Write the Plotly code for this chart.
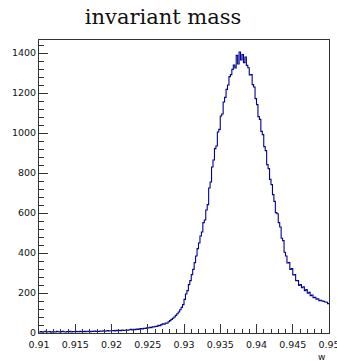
import numpy as np
import plotly.graph_objects as go

# ---------------- data ----------------
title_text = "invariant mass"
x_title = "w"
x_min = 0.91
x_max = 0.95
n_bins = 200

counts = [
    5, 7, 4, 6, 8, 5, 6, 7, 4, 6,
    6, 5, 8, 6, 5, 7, 8, 6, 5, 7,
    6, 8, 5, 7, 6, 8, 7, 6, 8, 7,
    7, 8, 6, 9, 8, 7, 9, 8, 10, 8,
    9, 8, 10, 9, 11, 9, 10, 12, 10, 11,
    11, 12, 10, 13, 12, 14, 12, 15, 13, 14,
    15, 14, 16, 18, 15, 19, 17, 20, 18, 21,
    22, 20, 24, 23, 26, 25, 29, 27, 31, 30,
    34, 33, 38, 37, 42, 46, 44, 50, 49, 56,
    62, 68, 74, 80, 88, 96, 105, 116, 128, 142,
    168, 195, 212, 242, 262, 292, 318, 352, 385, 422,
    450, 485, 505, 552, 565, 615, 642, 725, 755, 830,
    865, 922, 935, 1005, 1018, 1085, 1095, 1155, 1178, 1218,
    1240, 1282, 1292, 1318, 1340, 1325, 1388, 1345, 1405, 1365,
    1392, 1352, 1380, 1338, 1326, 1290, 1292, 1242, 1230, 1172,
    1142, 1082, 1068, 1008, 992, 932, 912, 842, 822, 768,
    742, 692, 658, 602, 596, 552, 530, 474, 462, 404,
    385, 350, 352, 318, 322, 290, 292, 262, 262, 238,
    242, 226, 231, 212, 217, 199, 203, 187, 190, 176,
    179, 169, 171, 162, 164, 160, 158, 155, 154, 147,
]

x_tick_labels = ["0.91", "0.915", "0.92", "0.925", "0.93", "0.935",
                 "0.94", "0.945", "0.95"]
y_tick_labels = ["0", "200", "400", "600", "800", "1000", "1200", "1400"]
y_max = 1465

# ---------------- figure ----------------
edges = np.linspace(x_min, x_max, n_bins + 1)
xs = list(edges)
ys = list(counts) + [counts[-1]]

line_col = "#000092"
frame_col = "#333333"
tick_font = dict(family="DejaVu Sans", size=9.5, color="#111111")

fig = go.Figure()
fig.add_trace(go.Scatter(x=xs, y=ys, mode="lines", line_shape="hv",
                         line=dict(color=line_col, width=1.1),
                         hoverinfo="skip", showlegend=False))

fig.update_layout(
    width=337, height=361,
    margin=dict(l=39, r=8, t=40, b=28, autoexpand=False),
    paper_bgcolor="white", plot_bgcolor="white",
    title=dict(text=title_text, xref="container", yref="container",
               x=0.484, xanchor="center", y=1 - 17 / 361, yanchor="middle",
               font=dict(family="DejaVu Serif", size=21, color="#111111")),
    annotations=[dict(text=x_title, xref="paper", yref="paper",
                      x=(321 - 39) / 290, y=-24 / 293, xanchor="center",
                      yanchor="middle", showarrow=False,
                      font=dict(family="DejaVu Sans", size=9, color="#111111"))],
)

fig.update_xaxes(
    range=[x_min, x_max], showgrid=False, zeroline=False, automargin=False,
    showline=True, mirror=True, linecolor=frame_col, linewidth=1,
    tickmode="array", tickvals=[float(s) for s in x_tick_labels],
    ticktext=x_tick_labels, ticks="inside", ticklen=9, tickcolor=frame_col,
    tickfont=tick_font, ticklabeloverflow="allow", ticklabelstandoff=3,
    minor=dict(tickmode="linear", tick0=x_min, dtick=0.001, ticks="inside",
               ticklen=4.5, tickcolor=frame_col),
)
fig.update_yaxes(
    range=[0, y_max], showgrid=False, zeroline=False, automargin=False,
    showline=True, mirror=True, linecolor=frame_col, linewidth=1,
    tickmode="array", tickvals=[float(s) for s in y_tick_labels],
    ticktext=y_tick_labels, ticks="inside", ticklen=9, tickcolor=frame_col,
    tickfont=tick_font,
    minor=dict(tickmode="linear", tick0=0, dtick=40, ticks="inside",
               ticklen=4.5, tickcolor=frame_col),
)

fig.write_html("out.html")
